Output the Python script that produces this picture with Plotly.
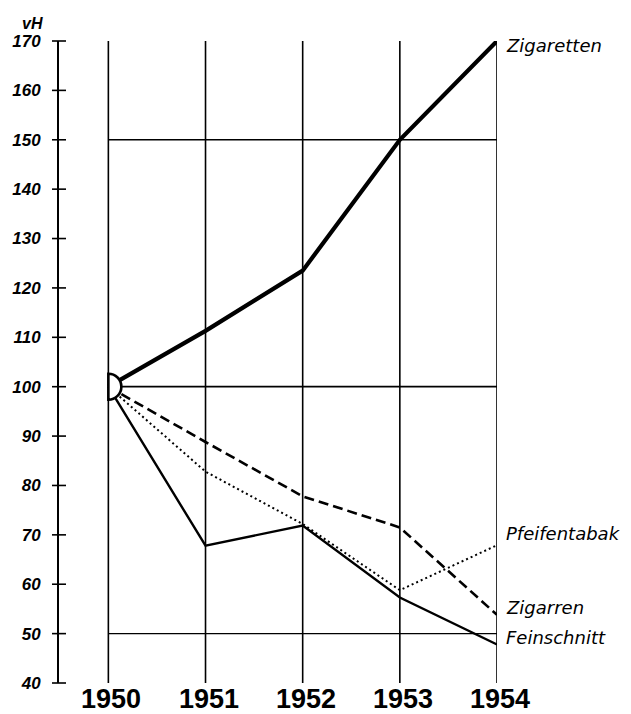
import plotly.graph_objects as go

# Index values (1950 = 100) by product group
years = [1950, 1951, 1952, 1953, 1954]
zigaretten = [100, 111.3, 123.5, 150, 170]
zigarren = [100, 88.8, 77.8, 71.5, 53.8]
pfeifentabak = [100, 82.8, 72.2, 58.8, 67.9]
feinschnitt = [100, 67.8, 71.9, 57.3, 47.8]

y_ticks = list(range(40, 171, 10))
grid_levels = [50, 100, 150]
series_labels = ["Zigaretten", "Pfeifentabak", "Zigarren", "Feinschnitt"]
label_levels = [169, 70.2, 55.3, 49.2]

x_start = 1949.492
y_min, y_max = 40, 170

label_font = dict(family="DejaVu Sans", size=18, color="black", style="italic")

fig = go.Figure()

# tick marks crossing the value axis
fig.add_trace(go.Scatter(
    x=[x_start] * len(y_ticks), y=y_ticks, mode="markers",
    marker=dict(symbol="line-ew", size=10, line=dict(width=1.6, color="black")),
    cliponaxis=False, hoverinfo="skip", showlegend=False))

fig.add_trace(go.Scatter(x=years, y=pfeifentabak, mode="lines",
                         line=dict(color="black", width=2, dash="2px,3px"),
                         showlegend=False, name="Pfeifentabak"))
fig.add_trace(go.Scatter(x=years, y=zigarren, mode="lines",
                         line=dict(color="black", width=2.6, dash="10px,5px"),
                         showlegend=False, name="Zigarren"))
fig.add_trace(go.Scatter(x=years, y=feinschnitt, mode="lines",
                         line=dict(color="black", width=2.4),
                         showlegend=False, name="Feinschnitt"))
fig.add_trace(go.Scatter(x=years, y=zigaretten, mode="lines",
                         line=dict(color="black", width=4.2),
                         showlegend=False, name="Zigaretten"))

shapes = []
# vertical year lines
for yr in years:
    shapes.append(dict(type="line", xref="x", yref="y", x0=yr, x1=yr,
                       y0=y_min, y1=y_max, layer="below",
                       line=dict(color="black", width=1.6)))
# horizontal reference lines
for lvl in grid_levels:
    shapes.append(dict(type="line", xref="x", yref="y", x0=years[0], x1=years[-1],
                       y0=lvl, y1=lvl, layer="below",
                       line=dict(color="black", width=1.8 if lvl == 100 else 1.4)))
# half circle marking the base year
r = 13
k = 7.18
shapes.append(dict(
    type="path", xref="x", yref="y", xsizemode="pixel", ysizemode="pixel",
    xanchor=years[0], yanchor=100,
    path=f"M 0,{r} C {k},{r} {r},{k} {r},0 C {r},{-k} {k},{-r} 0,{-r} Z",
    fillcolor="white", line=dict(color="black", width=2.6), layer="above"))

annotations = []
for yr in years:
    annotations.append(dict(
        x=yr, y=0, xref="x", yref="paper", text=str(yr), showarrow=False,
        xanchor="center", yanchor="top", yshift=1, xshift=3,
        font=dict(family="Liberation Sans", size=27, color="black", weight="bold")))
for name, lvl in zip(series_labels, label_levels):
    annotations.append(dict(
        x=years[-1], y=lvl, xref="x", yref="y", text=name, showarrow=False,
        xanchor="left", yanchor="middle", xshift=7, font=label_font))
annotations.append(dict(
    x=0, y=1, xref="paper", yref="paper", text="vH", showarrow=False,
    xanchor="center", yanchor="middle", xshift=-27, yshift=18,
    font=dict(family="Liberation Sans", size=16, color="black", style="italic",
              weight="bold")))

fig.update_layout(
    width=631, height=714,
    margin=dict(l=53, r=134, t=41, b=31),
    paper_bgcolor="white", plot_bgcolor="white",
    shapes=shapes, annotations=annotations,
    xaxis=dict(range=[x_start, 1954], showgrid=False, zeroline=False,
               showticklabels=False, showline=False, fixedrange=True),
    yaxis=dict(range=[y_min, y_max], tickvals=y_ticks, showgrid=False,
               zeroline=False, showline=True, linecolor="black", linewidth=2,
               ticks="", ticklabelstandoff=13,
               tickfont=dict(family="Liberation Sans", size=17, color="black",
                             style="italic", weight="bold")),
)

fig.write_html("out.html")
